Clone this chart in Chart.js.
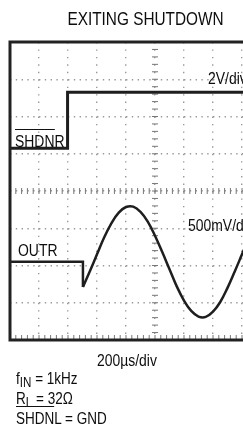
<!DOCTYPE html>
<html>
<head>
<meta charset="utf-8">
<script src="https://cdn.jsdelivr.net/npm/chart.js@4.4.0/dist/chart.umd.min.js"></script>
<style>
  html, body { margin:0; padding:0; width:243px; height:428px; overflow:hidden; background:#fff; }
  #wrap { position:absolute; left:0; top:0; width:320px; height:428px; }
  .t { position:absolute; font-family:'Liberation Sans','Arial',sans-serif;
       font-size:16.8px; line-height:16px; color:#0d0d0d; white-space:nowrap;
       transform:scaleX(0.83); transform-origin:0 0; }
  .ob { border-top:1.3px solid #111; padding-top:2px; }
  .sub { font-size:14px; position:relative; top:3px; }
</style>
</head>
<body>
<div id="wrap"><canvas id="c"></canvas></div>
<div class="t" style="left:0;width:291px;text-align:center;top:10px;font-size:18.5px;line-height:18px;transform-origin:145.5px 0;">EXITING SHUTDOWN</div>
<div class="t" style="left:208px;top:71px;">2V/div</div>
<div class="t" style="left:15px;top:134px;"><span class="ob">SHDN</span>R</div>
<div class="t" style="left:188px;top:218px;">500mV/div</div>
<div class="t" style="left:18px;top:243px;">OUTR</div>
<div class="t" style="left:97px;top:353px;">200µs/div</div>
<div class="t" style="left:16px;top:369.5px;font-size:16.3px;">f<span class="sub">IN</span> = 1kHz</div>
<div class="t" style="left:16px;top:389.5px;font-size:16.3px;">R<span class="sub">L</span> = 32Ω</div>
<div class="t" style="left:16px;top:409.5px;font-size:16.3px;"><span class="ob">SHDN</span>L = GND</div>
<script>
// ---- data (time in µs, 200 µs/div) ----
const shdnrTimes  = [0, 397, 397, 1700];
const shdnrVolts  = [0, 0, 3.0, 3.0];          // SHDNR, 2 V/div

const outrFlatTimes = [0, 503, 503];
const outrFlatMv    = [0, 0, -340];            // OUTR before and at the step, 500 mV/div

const outrSineTimes = [503, 550, 600, 650, 700, 750, 800, 850, 900, 950, 1000, 1050, 1100,
                       1150, 1200, 1250, 1300, 1350, 1400, 1450, 1500, 1550, 1600, 1650];
const outrSineMv    = [-340, -130, 100, 330, 520, 660, 735, 740, 670, 540, 350, 130, -100,
                       -330, -520, -660, -735, -740, -670, -540, -350, -130, 100, 330];

const timeTicks = [0, 200, 400, 600, 800, 1000, 1200, 1400, 1600, 1800, 2000];
const divTicks  = [-4, -3, -2, -1, 0, 1, 2, 3, 4];

const pts = (xs, ys) => xs.map((x, i) => ({x, y: ys[i]}));
const TRACE = '#1e1e1e';

const scopeDecor = {
  id: 'scopeDecor',
  beforeDatasetsDraw(chart) {
    const {ctx, chartArea: a, scales: {x, y}} = chart;
    ctx.save();
    ctx.strokeStyle = '#777';
    ctx.lineWidth = 1;
    const cx = x.getPixelForValue(1000), cy = y.getPixelForValue(0);
    ctx.beginPath();
    for (let v = -4; v <= 4.0001; v += 0.2) {
      const py = y.getPixelForValue(v);
      ctx.moveTo(cx - 3, py); ctx.lineTo(cx + 3, py);
    }
    for (let t = 0; t <= 2000.001; t += 40) {
      const px = x.getPixelForValue(t);
      ctx.moveTo(px, cy - 3); ctx.lineTo(px, cy + 3);
      ctx.moveTo(px, a.bottom); ctx.lineTo(px, a.bottom - 5);
    }
    ctx.stroke();
    ctx.restore();
  },
  afterDraw(chart) {
    const {ctx, chartArea: a} = chart;
    ctx.save();
    ctx.strokeStyle = '#222';
    ctx.lineWidth = 3;
    ctx.strokeRect(a.left, a.top, a.right - a.left, a.bottom - a.top);
    ctx.restore();
  }
};

new Chart(document.getElementById('c'), {
  type: 'line',
  data: {
    datasets: [
      { label: 'SHDNR', data: pts(shdnrTimes, shdnrVolts), yAxisID: 'yV',
        borderColor: TRACE, borderWidth: 3, pointRadius: 0, tension: 0 },
      { label: 'OUTR', data: pts(outrFlatTimes, outrFlatMv), yAxisID: 'yMV',
        borderColor: TRACE, borderWidth: 2.5, pointRadius: 0, tension: 0 },
      { label: 'OUTR sine', data: pts(outrSineTimes, outrSineMv), yAxisID: 'yMV',
        borderColor: TRACE, borderWidth: 2.5, pointRadius: 0, tension: 0.4 }
    ]
  },
  options: {
    responsive: true, maintainAspectRatio: false, animation: false,
    layout: { padding: { left: 10, top: 42, right: 20, bottom: 88 } },
    plugins: { legend: { display: false }, tooltip: { enabled: false } },
    scales: {
      x: { type: 'linear', min: 0, max: 2000,
           afterBuildTicks: s => { s.ticks = timeTicks.map(v => ({value: v})); },
           ticks: { display: false },
           grid: { color: '#999', lineWidth: 1.4, drawTicks: false },
           border: { display: false, dash: [1.4, 6.05], dashOffset: 0 } },
      y: { type: 'linear', min: -4, max: 4,
           afterBuildTicks: s => { s.ticks = divTicks.map(v => ({value: v})); },
           ticks: { display: false },
           grid: { color: '#999', lineWidth: 1.4, drawTicks: false },
           border: { display: false, dash: [1.4, 4.4], dashOffset: 0 } },
      yV:  { type: 'linear', display: false, min: -10.3, max: 5.7 },
      yMV: { type: 'linear', display: false, min: -1050, max: 2950 }
    }
  },
  plugins: [scopeDecor]
});
</script>
</body>
</html>
